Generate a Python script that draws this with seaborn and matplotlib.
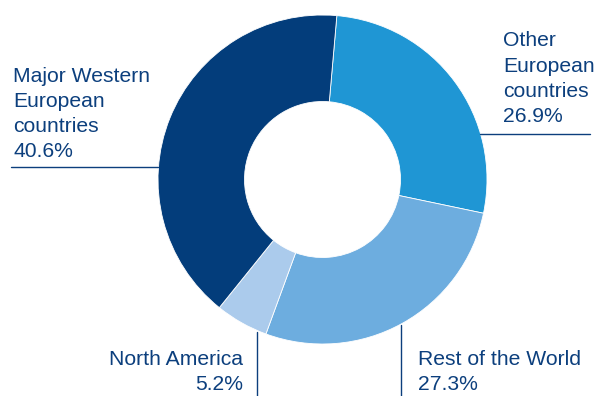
import matplotlib
matplotlib.use("Agg")
import matplotlib.pyplot as plt
import seaborn as sns

# ---- data ----
categories = ["Other European countries", "Rest of the World", "North America", "Major Western European countries"]
shares = [26.9, 27.3, 5.2, 40.6]
label_lines = [
    ["Other", "European", "countries", "26.9%"],
    ["Rest of the World", "27.3%"],
    ["North America", "5.2%"],
    ["Major Western", "European", "countries", "40.6%"],
]

colors = ["#1f96d4", "#6daddf", "#abcbec", "#033d7b"]
text_color = "#0c3f7d"

sns.set_theme(style="white")
plt.rcParams["font.family"] = ["Liberation Sans", "DejaVu Sans"]

W, H = 598, 396
fig = plt.figure(figsize=(W / 100, H / 100), dpi=100)
ax = fig.add_axes([0, 0, 1, 1])
ax.set_xlim(0, W)
ax.set_ylim(0, H)
ax.set_aspect("equal")
ax.axis("off")

def py(y):
    return H - y

cx, cy, r_out, r_in = 322.5, 179.5, 164.5, 78
ax.pie(shares, colors=colors, startangle=85, counterclock=False,
       center=(cx, py(cy)), radius=r_out,
       wedgeprops=dict(width=r_out - r_in, edgecolor="white", linewidth=0.6))
ax.set_xlim(0, W)
ax.set_ylim(0, H)

fs = 15.2
def put(lines, x, baselines, ha="left"):
    for t, b in zip(lines, baselines):
        ax.text(x, py(b), t, ha=ha, va="baseline", fontsize=fs, color=text_color)

put(label_lines[0], 503, [46, 71.5, 97, 122])
put(label_lines[1], 418, [365, 390])
put(label_lines[2], 243, [365, 390], ha="right")
put(label_lines[3], 13, [82, 107, 132, 157])

lw = 1.0
ax.plot([11, 158], [py(166.5), py(166.5)], color=text_color, lw=lw)
ax.plot([480, 590], [py(133.5), py(133.5)], color=text_color, lw=lw)
ax.plot([257, 257], [py(332), py(396)], color=text_color, lw=lw)
ax.plot([401, 401], [py(325), py(396)], color=text_color, lw=lw)

fig.savefig("out.png", dpi=100)
